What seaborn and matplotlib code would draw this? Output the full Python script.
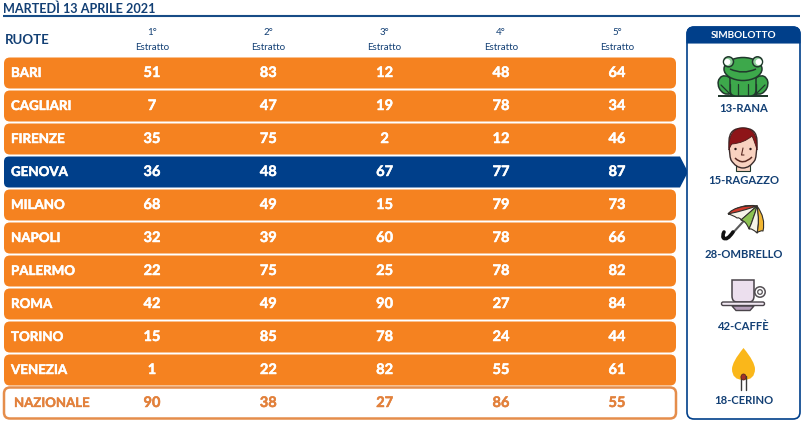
import matplotlib
matplotlib.use("Agg")
import matplotlib.pyplot as plt
from matplotlib.patches import FancyBboxPatch, Circle, Ellipse, PathPatch, Rectangle
from matplotlib.path import Path
import matplotlib.patheffects as pe
import numpy as np
import pandas as pd
import seaborn as sns

title = "MARTEDÌ 13 APRILE 2021"
ruote = ["BARI", "CAGLIARI", "FIRENZE", "GENOVA", "MILANO", "NAPOLI", "PALERMO", "ROMA", "TORINO", "VENEZIA", "NAZIONALE"]
estratto_1 = [51, 7, 35, 36, 68, 32, 22, 42, 15, 1, 90]
estratto_2 = [83, 47, 75, 48, 49, 39, 75, 49, 85, 22, 38]
estratto_3 = [12, 19, 2, 67, 15, 60, 25, 90, 78, 82, 27]
estratto_4 = [48, 78, 12, 77, 79, 78, 78, 27, 24, 55, 86]
estratto_5 = [64, 34, 46, 87, 73, 66, 82, 84, 44, 61, 55]
colonne = ["1°", "2°", "3°", "4°", "5°"]
simboli = ["13-RANA", "15-RAGAZZO", "28-OMBRELLO", "42-CAFFÈ", "18-CERINO"]

ORANGE = "#f58220"
NAVY = "#003f8a"
INK = "#123f74"
NAZ = "#e2813c"
sns.set_theme(style="white")
plt.rcParams["font.family"] = ["Lato", "DejaVu Sans"]

W, H = 801, 423
fig = plt.figure(figsize=(W / 100, H / 100), dpi=100, facecolor="white")
ax = fig.add_axes([0, 0, 1, 1])
df = pd.DataFrame({"ruota": ruote, "span": [672] * len(ruote),
                   "gruppo": ["g" if r == "GENOVA" else ("n" if r == "NAZIONALE" else "o") for r in ruote]})
sns.barplot(data=df, y="ruota", x="span", hue="gruppo", dodge=False, legend=False, order=ruote, saturation=1,
            palette={"o": ORANGE, "g": NAVY, "n": "white"}, ax=ax, width=31 / 33)
# row r is centred at 73+33r px
ax.set_ylim((H - 73) / 33, -73 / 33)
ax.set_xlim(-4, W - 4)
ax.set_axis_off()
for p in list(ax.patches):
    if p.get_width() == 0 or np.isnan(p.get_width()):
        p.remove()
        continue
    x, y, w, h = p.get_x(), p.get_y(), p.get_width(), p.get_height()
    fc = p.get_facecolor()
    p.remove()
    row = int(round(y + h / 2))
    name = ruote[row]
    if name == "GENOVA":
        top, bot, mid = y, y + h, y + h / 2
        verts = [(x + 5, top), (w + 4, top), (w + 12, mid), (w + 4, bot), (x + 5, bot),
                 (x, bot), (x, bot - 5 / 33), (x, top + 5 / 33), (x, top), (x + 5, top), (x + 5, top)]
        codes = [Path.MOVETO, Path.LINETO, Path.LINETO, Path.LINETO, Path.LINETO,
                 Path.CURVE3, Path.CURVE3, Path.LINETO, Path.CURVE3, Path.CURVE3, Path.CLOSEPOLY]
        ax.add_patch(PathPatch(Path(verts, codes), fc=fc, ec="none", zorder=2))
    elif name == "NAZIONALE":
        ax.add_patch(FancyBboxPatch((x, y), w, h, boxstyle="round,pad=0,rounding_size=6",
                                    mutation_aspect=1 / 33, fc="white", ec="#e58d4b", lw=1.8, zorder=2))
    else:
        ax.add_patch(FancyBboxPatch((x, y), w, h, boxstyle="round,pad=0,rounding_size=6",
                                    mutation_aspect=1 / 33, fc=fc, ec="none", zorder=2))

# overlay in pixel coordinates
ov = fig.add_axes([0, 0, 1, 1], facecolor="none")
ov.set_xlim(0, W)
ov.set_ylim(H, 0)
ov.set_axis_off()

def heavy(col, w=0.35):
    return [pe.withStroke(linewidth=w, foreground=col)]

ov.text(3, 8.5, title, color=INK, fontsize=9.05, fontweight="bold", va="center", ha="left")
ov.plot([3, 800], [16.2, 16.2], color="#174c86", lw=1.5, solid_capstyle="butt")
ov.text(4.5, 40, "RUOTE", color=INK, fontsize=9.5, fontweight="bold", va="center")

col_x = [152, 268.3, 384.6, 501, 617]
valori = [estratto_1, estratto_2, estratto_3, estratto_4, estratto_5]
for cx, lab, vals in zip(col_x, colonne, valori):
    ov.text(cx, 32.5, lab, color=INK, fontsize=7, ha="center", va="center")
    ov.text(cx, 47, "Estratto", color=INK, fontsize=7, ha="center", va="center")
    for r, v in enumerate(vals):
        col = NAZ if ruote[r] == "NAZIONALE" else "white"
        ov.text(cx, 73 + 33 * r, str(v), color=col, fontsize=10.5, fontweight="bold", ha="center", va="center",
                path_effects=heavy(col))
for r, name in enumerate(ruote):
    if name == "NAZIONALE":
        ov.text(14, 73 + 33 * r, name, color=NAZ, fontsize=9.5, fontweight="bold", va="center", path_effects=heavy(NAZ, 0.25))
    else:
        ov.text(11, 73 + 33 * r, name, color="white", fontsize=9.6, fontweight="bold", va="center", path_effects=heavy("white"))

# side panel
ov.add_patch(FancyBboxPatch((687, 27), 113, 392, boxstyle="round,pad=0,rounding_size=7",
                            fc="white", ec=NAVY, lw=1.2, zorder=2))
hd = [(687, 43), (687, 34), (687, 27), (694, 27), (793, 27), (800, 27), (800, 34), (800, 43), (687, 43)]
hc = [Path.MOVETO, Path.LINETO, Path.CURVE3, Path.CURVE3, Path.LINETO, Path.CURVE3, Path.CURVE3, Path.LINETO, Path.CLOSEPOLY]
ov.add_patch(PathPatch(Path(hd, hc), fc=NAVY, ec=NAVY, lw=0.8, zorder=3))
ov.text(743.5, 35.3, "SIMBOLOTTO", color="white", fontsize=7.2, fontweight="bold", ha="center", va="center", zorder=4)
for lab, y in zip(simboli, [108, 181, 254, 327, 400]):
    ov.text(743.5, y, lab, color=INK, fontsize=8.1, fontweight="bold", ha="center", va="center", zorder=4)

Z = 5
DK = "#20382c"
# frog
G = "#3da84b"
ov.add_patch(Rectangle((718, 95), 50, 2.2, fc=DK, ec="none", zorder=Z))
for sx in (-1, 1):
    ov.add_patch(Ellipse((743 + sx * 17, 85), 15, 19, angle=sx * 25, fc=G, ec=DK, lw=1.1, zorder=Z))
    ov.plot([743 + sx * 22, 743 + sx * 12], [85, 95], color=DK, lw=0.9, zorder=Z + 2)
ov.add_patch(FancyBboxPatch((730, 70), 26, 26, boxstyle="round,pad=0,rounding_size=6", fc=G, ec=DK, lw=1.1, zorder=Z + 1))
ov.add_patch(Ellipse((743, 69), 38, 23, fc=G, ec=DK, lw=1.1, zorder=Z + 2))
for sx in (-1, 1):
    ov.add_patch(Circle((743 + sx * 14.5, 61.8), 5, fc="#8fd09a", ec=DK, lw=1.1, zorder=Z + 3))
    ov.add_patch(Circle((743 + sx * 14.5 + sx * 1.2, 62), 3.1, fc="white", ec="none", zorder=Z + 4))
    ov.plot([743 + sx * 5] * 2, [84, 95], color=DK, lw=0.9, zorder=Z + 3)
    ov.plot([743 + sx * 13] * 2, [84, 95], color=DK, lw=0.9, zorder=Z + 3)
mouth = Path([(730, 69), (743, 75), (756, 69)], [Path.MOVETO, Path.CURVE3, Path.CURVE3])
ov.add_patch(PathPatch(mouth, fc="none", ec=DK, lw=1.1, zorder=Z + 4))

# boy's face
SK = "#f9d2c0"
ov.add_patch(Rectangle((736, 164), 14, 7, fc=SK, ec=DK, lw=0.8, zorder=Z))
face = Path([(729, 141), (729, 128), (743, 128), (757, 128), (757, 141), (757, 155), (755, 160), (750, 168), (743, 168),
             (736, 168), (731, 160), (729, 155), (729, 141)],
            [Path.MOVETO] + [Path.CURVE3] * 12)
ov.add_patch(PathPatch(face, fc=SK, ec="#3a2a2a", lw=1.0, zorder=Z + 1))
hair = Path([(729, 150), (728, 128), (743, 128), (758, 128), (757, 150), (755, 142), (752, 136), (744, 143), (732, 144), (730, 146), (729, 150)],
            [Path.MOVETO] + [Path.CURVE3] * 10)
ov.add_patch(PathPatch(hair, fc="#8e1418", ec="#4a1a1a", lw=0.6, zorder=Z + 2))
ov.add_patch(Circle((735.5, 149), 1.2, fc="#2c1a1a", ec="none", zorder=Z + 3))
ov.add_patch(Circle((750.5, 149), 1.2, fc="#2c1a1a", ec="none", zorder=Z + 3))
ov.plot([743, 741.5, 744], [148, 155, 155], color="#5a2a22", lw=0.8, zorder=Z + 3)
smile = Path([(735, 158), (743, 166), (752, 157)], [Path.MOVETO, Path.CURVE3, Path.CURVE3])
ov.add_patch(PathPatch(smile, fc="none", ec="#5a2a22", lw=1.1, zorder=Z + 3))

# umbrella: panels radiate from the tip
def panel(verts, color):
    codes = [Path.MOVETO] + [Path.CURVE3] * (len(verts) - 2) + [Path.LINETO]
    ov.add_patch(PathPatch(Path(verts, codes), fc=color, ec="#33302c", lw=0.8, joinstyle="round", zorder=Z + 1))

TIP = (757, 206)
ov.plot([752, 730], [212, 236], color="#5a5a5a", lw=1.5, zorder=Z, solid_capstyle="round")
hook = Path([(733, 232), (727, 241), (723.5, 238), (722, 236), (724, 232)], [Path.MOVETO] + [Path.CURVE3] * 4)
ov.add_patch(PathPatch(hook, fc="none", ec="#111", lw=2.6, capstyle="round", zorder=Z))
panel([(728, 214), (733, 215), (737, 218), (740, 217), (741, 220), (744, 218), (TIP[0], TIP[1]), (741, 203), (728, 214)], "#f6f3e8")
panel([(728, 214), (735, 205), (TIP[0], TIP[1]), (745, 210), (737, 212), (732, 213), (728, 214)], "#d23a2b")
panel([(741, 220), (749, 213), (TIP[0], TIP[1]), (754, 218), (749, 229), (746, 221), (741, 220)], "#8cc152")
panel([(749, 229), (754, 218), (TIP[0], TIP[1]), (760, 220), (757, 233), (752, 228), (749, 229)], "#f6f3e8")
panel([(757, 233), (760, 222), (TIP[0], TIP[1]), (766, 218), (763, 231), (760, 230), (757, 233)], "#f2b632")

# coffee
CUP = "#ecdfee"
ov.add_patch(Circle((760, 292), 5.2, fc="white", ec="#555055", lw=1.1, zorder=Z))
ov.add_patch(Circle((760, 292), 2.3, fc="white", ec="#555055", lw=0.9, zorder=Z))
cup = Path([(732, 280), (754, 280), (754, 296), (754, 302), (749, 302), (737, 302), (732, 302), (732, 296), (732, 280)],
           [Path.MOVETO, Path.LINETO, Path.LINETO, Path.CURVE3, Path.CURVE3, Path.LINETO, Path.CURVE3, Path.CURVE3, Path.CLOSEPOLY])
ov.add_patch(PathPatch(cup, fc=CUP, ec="#4a444a", lw=1.1, zorder=Z + 1))
sau = Path([(732, 306), (754, 306), (750, 310.5), (736, 310.5), (732, 306)],
           [Path.MOVETO, Path.LINETO, Path.LINETO, Path.LINETO, Path.CLOSEPOLY])
ov.add_patch(PathPatch(sau, fc="#b59fba", ec="#4a444a", lw=1.0, zorder=Z + 1))
ov.add_patch(FancyBboxPatch((721.5, 302), 43, 3.5, boxstyle="round,pad=0,rounding_size=1.7", fc="#f1e8f2", ec="#4a444a", lw=1.0, zorder=Z + 2))

# match
flame = Path([(743.5, 348), (732, 362), (732, 369), (732, 380), (743.5, 380), (755, 380), (755, 369), (755, 362), (743.5, 348)],
             [Path.MOVETO] + [Path.CURVE3] * 8)
ov.add_patch(PathPatch(flame, fc="#fab71a", ec="none", zorder=Z))
ov.plot([741, 741], [376, 390], color="#3a3a3a", lw=1.0, zorder=Z + 1)
ov.plot([746, 746], [376, 390], color="#3a3a3a", lw=1.0, zorder=Z + 1)
ov.add_patch(Ellipse((743.5, 377), 5, 6, fc="#a3312a", ec="#5a2a22", lw=0.6, zorder=Z + 2))

fig.savefig("out.png", dpi=100)
